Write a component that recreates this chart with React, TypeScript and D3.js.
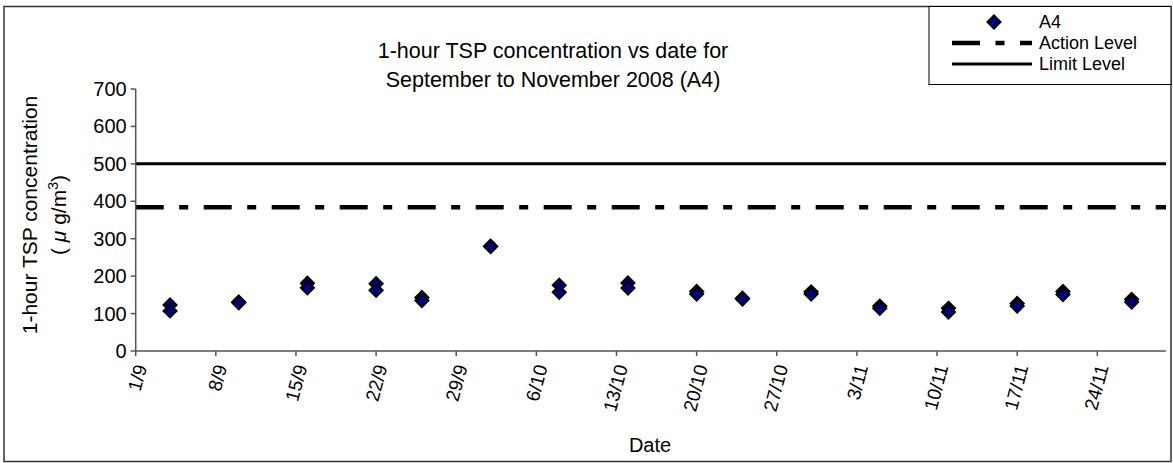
import React from "react";
import * as d3 from "d3";

const sampleDates = [
  "2008-09-04", "2008-09-10", "2008-09-16", "2008-09-22", "2008-09-26",
  "2008-10-02", "2008-10-08", "2008-10-14", "2008-10-20", "2008-10-24",
  "2008-10-30", "2008-11-05", "2008-11-11", "2008-11-17", "2008-11-21",
  "2008-11-27",
];
const readingA = [123, 131, 181, 180, 143, 280, 176, 182, 159, 141, 158, 120, 114, 127, 159, 138];
const readingB = [107, 129, 169, 162, 135, 279, 157, 168, 152, 139, 152, 114, 104, 120, 151, 131];
const actionLevel = 384;
const limitLevel = 500;
const yTicks = [0, 100, 200, 300, 400, 500, 600, 700];
const xTickDates = [
  "2008-09-01", "2008-09-08", "2008-09-15", "2008-09-22", "2008-09-29",
  "2008-10-06", "2008-10-13", "2008-10-20", "2008-10-27", "2008-11-03",
  "2008-11-10", "2008-11-17", "2008-11-24",
];
const xDomain = ["2008-09-01", "2008-11-30"];
const titleLines = ["1-hour TSP concentration vs date for", "September to November 2008 (A4)"];
const legendLabels = ["A4", "Action Level", "Limit Level"];

const W = 1173;
const H = 463;
const M = { left: 135.7, right: 1166, top: 89, bottom: 351 };
const FONT = "'Liberation Sans', Arial, sans-serif";
const DASH = "28 15.5 9 15.5";

function diamond(cx: number, cy: number, r: number) {
  return `M${cx},${cy - r}L${cx + r},${cy}L${cx},${cy + r}L${cx - r},${cy}Z`;
}

export default function App() {
  const parse = d3.utcParse("%Y-%m-%d");
  const x = d3
    .scaleUtc()
    .domain(xDomain.map((d) => parse(d) as Date))
    .range([M.left, M.right]);
  const y = d3.scaleLinear().domain([0, 700]).range([M.bottom, M.top]);
  const fmt = d3.utcFormat("%-d/%-m");

  const points: { date: Date; value: number }[] = [];
  sampleDates.forEach((d, i) => {
    const dt = parse(d) as Date;
    points.push({ date: dt, value: readingA[i] });
    points.push({ date: dt, value: readingB[i] });
  });

  const axisColor = "#555";
  const lgX = 929;
  const rowY = [22, 43, 64];

  return (
    <svg
      width={W}
      height={H}
      style={{ position: "absolute", left: 0, top: 0, background: "#fff" }}
      fontFamily={FONT}
    >
      <rect x={0} y={0} width={W} height={H} fill="#fff" />
      {/* outer frame */}
      <rect x={4} y={6.5} width={1167} height={455} fill="none" stroke="#333" strokeWidth={1.5} />

      {/* title */}
      {titleLines.map((t, i) => (
        <text key={i} x={553} y={58 + i * 29} textAnchor="middle" fontSize={21.5} fill="#000">
          {t}
        </text>
      ))}

      {/* reference lines */}
      <line x1={M.left} x2={M.right} y1={y(limitLevel)} y2={y(limitLevel)} stroke="#000" strokeWidth={3} />
      <line
        x1={M.left}
        x2={M.right}
        y1={y(actionLevel)}
        y2={y(actionLevel)}
        stroke="#000"
        strokeWidth={4.5}
        strokeDasharray={DASH}
      />

      {/* y axis */}
      <line x1={M.left} x2={M.left} y1={M.top} y2={M.bottom} stroke={axisColor} strokeWidth={1.5} />
      {yTicks.map((t) => (
        <g key={t}>
          <line x1={M.left - 5} x2={M.left} y1={y(t)} y2={y(t)} stroke={axisColor} strokeWidth={1.5} />
          <text x={M.left - 9} y={y(t)} dy="0.35em" textAnchor="end" fontSize={20} fill="#000">
            {t}
          </text>
        </g>
      ))}

      {/* x axis */}
      <line x1={M.left} x2={M.right} y1={M.bottom} y2={M.bottom} stroke={axisColor} strokeWidth={1.5} />
      {xTickDates.map((d) => {
        const dt = parse(d) as Date;
        const px = x(dt);
        return (
          <g key={d}>
            <line x1={px} x2={px} y1={M.bottom} y2={M.bottom + 5} stroke={axisColor} strokeWidth={1.5} />
            <text
              transform={`translate(${px + 5},${M.bottom + 14}) rotate(-75)`}
              textAnchor="end"
              dy="0.35em"
              fontSize={19}
              fill="#000"
            >
              {fmt(dt)}
            </text>
          </g>
        );
      })}

      {/* axis titles */}
      <text x={650} y={452} textAnchor="middle" fontSize={20} fill="#000">
        Date
      </text>
      <g transform="translate(37,215) rotate(-90)">
        <text x={0} y={0} textAnchor="middle" fontSize={21} fill="#000">
          1-hour TSP concentration
        </text>
        <text x={0} y={29} textAnchor="middle" fontSize={21} fill="#000">
          ( <tspan fontStyle="italic">μ</tspan> g/m
          <tspan baselineShift="super" fontSize={14}>3</tspan>)
        </text>
      </g>

      {/* data points */}
      {points.map((p, i) => (
        <path
          key={i}
          d={diamond(x(p.date), y(p.value), 6.5)}
          fill="#000080"
          stroke="#000"
          strokeWidth={2}
        />
      ))}

      {/* legend */}
      <rect x={lgX} y={6.5} width={1171 - lgX} height={78} fill="#fff" stroke="#000" strokeWidth={1} />
      <path d={diamond(994, rowY[0], 6.5)} fill="#000080" stroke="#000" strokeWidth={2} />
      <line x1={952} x2={1032} y1={rowY[1]} y2={rowY[1]} stroke="#000" strokeWidth={4.5} strokeDasharray={DASH} />
      <line x1={952} x2={1032} y1={rowY[2]} y2={rowY[2]} stroke="#000" strokeWidth={3} />
      {legendLabels.map((l, i) => (
        <text key={l} x={1039} y={rowY[i]} dy="0.35em" fontSize={18} fill="#000">
          {l}
        </text>
      ))}
    </svg>
  );
}
